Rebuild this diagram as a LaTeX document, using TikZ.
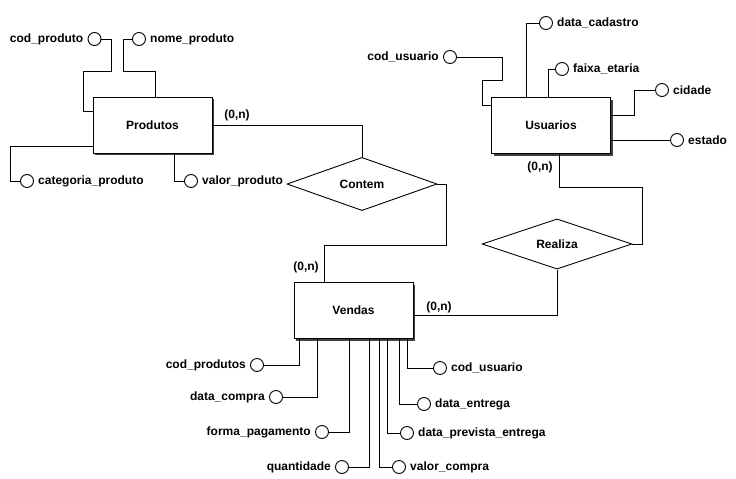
\documentclass[tikz,border=0pt]{standalone}
\usepackage{fontspec}
\setmainfont{Liberation Sans}
\usetikzlibrary{shapes.geometric,shadows}
\begin{document}
\begin{tikzpicture}[x=1pt, y=-1pt, line width=.9pt, line join=miter,
        font=\fontsize{12}{14}\selectfont\bfseries,
        entity/.style={draw, fill=white, minimum width=119pt, minimum height=56pt,
                drop shadow={shadow xshift=2pt, shadow yshift=-2pt, fill=black!75, opacity=1}},
        rel/.style={diamond, draw, fill=white, minimum width=150pt, minimum height=50pt, inner sep=0pt},
        attr/.style={circle, draw, fill=white, minimum size=13pt, inner sep=0pt},
        card/.style={inner sep=1pt}]
                \useasboundingbox[fill=white] (0,0) rectangle (736,479);
                % entidades e relacionamentos
                \node[entity] (produtos) at (152.5,125) {Produtos};
                \node[entity] (usuarios) at (551,125.5) {Usuarios};
                \node[entity] (vendas) at (353.5,310.5) {Vendas};
                \node[rel] (contem) at (362,184) {Contem};
                \node[rel] (realiza) at (557,244) {Realiza};
                % atributos
                \foreach \n/\x/\y/\s/\t in {cp/94.5/39/left/cod\_produto, np/139/39/right/nome\_produto,
                        catp/27/181/right/categoria\_produto, vp/191/181/right/valor\_produto,
                        dc/546/23/right/data\_cadastro, cu/450/57/left/cod\_usuario,
                        fe/562/69/right/faixa\_etaria, ci/662/90/right/cidade, es/677/140/right/estado,
                        cps/257/365/left/cod\_produtos, dcp/276/397/left/data\_compra,
                        fp/322/432/left/forma\_pagamento, qt/342/467/left/quantidade,
                        vc/399/467/right/valor\_compra, dpe/407/433/right/data\_prevista\_entrega,
                        de/424/404/right/data\_entrega, cuv/440/368/right/cod\_usuario}
                        \node[attr, label={[label distance=.5pt]\s:\t}] (\n) at (\x,\y) {};
                % ligacoes
                \draw (produtos.east) -| (contem.north);
                \draw (contem.east) -| (446,245) -| ([xshift=-29.5pt]vendas.north);
                \draw ([yshift=-4.5pt]vendas.east) -| (realiza.south);
                \draw (realiza.east) -| (642,187) -| ([xshift=8pt]usuarios.south);
                \node[card] (c1) at (237,115) {(0,n)};
                \node[card] (c2) at (540,167) {(0,n)};
                \node[card] (c3) at (306,267) {(0,n)};
                \node[card] (c4) at (439,307) {(0,n)};
                % atributos de Produtos
                \draw (cp.east) -| (111,71) -| (83,111) -- ([yshift=14pt]produtos.west);
                \draw (np.west) -| (123,71) -| ([xshift=2.5pt]produtos.north);
                \draw (catp.west) -| (10,146) -- ([yshift=-21pt]produtos.west);
                \draw (vp.west) -| ([xshift=21.5pt]produtos.south);
                % atributos de Usuarios
                \draw (dc.west) -| ([xshift=-25pt]usuarios.north);
                \draw (cu.east) -| (502,80) -| (482,105) -- ([yshift=20.5pt]usuarios.west);
                \draw (fe.west) -| ([xshift=-3pt]usuarios.north);
                \draw (ci.west) -| (634,115) -- ([yshift=10.5pt]usuarios.east);
                \draw (es.west -| usuarios.east) -- (es.west);
                % atributos de Vendas
                \foreach \n/\d in {cps/-54.5, dcp/-36.5, fp/-4.5, qt/15.5}
                        \draw (\n.east) -| ([xshift=\d pt]vendas.south);
                \foreach \n/\d in {vc/25.5, dpe/33.5, de/45.5, cuv/53.5}
                        \draw (\n.west) -| ([xshift=\d pt]vendas.south);
\end{tikzpicture}
\end{document}
